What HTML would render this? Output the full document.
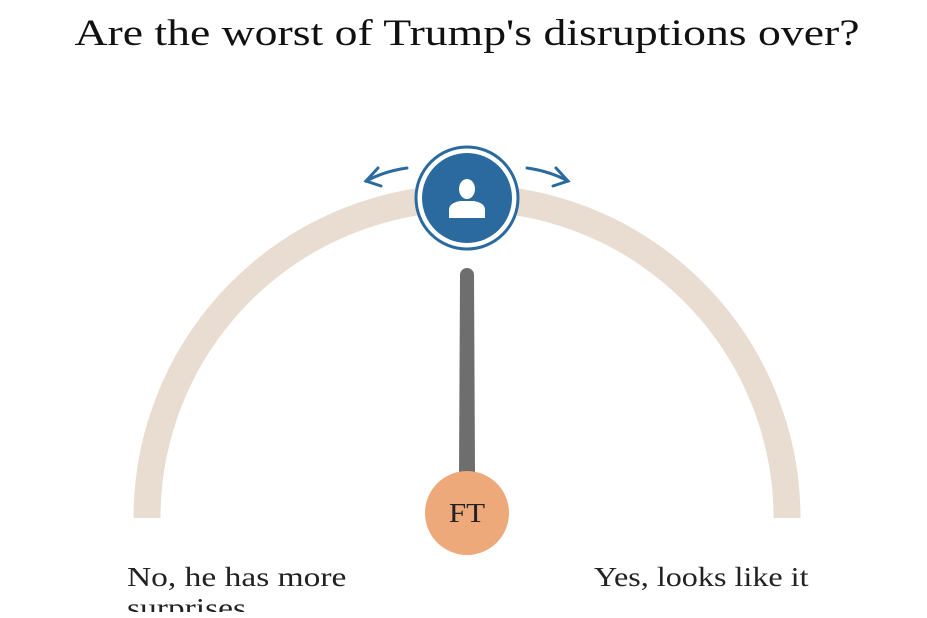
<!DOCTYPE html>
<html><head><meta charset="utf-8"><style>
html,body{margin:0;padding:0;background:#fff;width:927px;height:618px;overflow:hidden}
h1{position:absolute;top:12px;left:0;width:934px;text-align:center;margin:0;font:400 37px "Liberation Serif",serif;color:#111;transform:scaleX(1.235);transform-origin:467px 0}
.lbl{position:absolute;font:400 27px "Liberation Serif",serif;color:#222;line-height:31px;transform-origin:0 0}
</style></head><body>
<h1>Are the worst of Trump's disruptions over?</h1>
<svg width="927" height="618" style="position:absolute;left:0;top:0">
<path d="M147,518 A320,320 0 0 1 787,518" fill="none" stroke="#e8ddd0" stroke-width="27"/>
<g id="needle-g"></g>
<g>
<circle cx="467" cy="198" r="51" fill="#fff" stroke="#2b6a9e" stroke-width="3"/>
<circle cx="467" cy="198" r="45" fill="#2b6a9e"/>
<ellipse cx="467" cy="189" rx="8" ry="10" fill="#fff"/>
<path d="M449,218 L449,210 Q449,203 460,201 L474,201 Q485,203 485,210 L485,218 Z" fill="#fff"/>
</g>
<g fill="none" stroke="#2b6a9e" stroke-width="3" stroke-linecap="round">
<path d="M407,168 Q385,171 366,181"/><path d="M378,168 L366,181 L381,186"/></g>
<g fill="none" stroke="#2b6a9e" stroke-width="3" stroke-linecap="round">
<path d="M527,168 Q549,171 568,181"/><path d="M556,168 L568,181 L553,186"/></g>
<g>
<circle cx="467" cy="513" r="42" fill="#eda97a"/>
<text x="467" y="522" text-anchor="middle" font-family="Liberation Serif" font-size="27" fill="#222" transform="translate(467 0) scale(1.15 1) translate(-467 0)">FT</text></g>
</svg>
<div class="lbl" style="left:127px;top:562px;width:200px;height:50px;overflow:hidden;transform:scaleX(1.24)">No, he has more surprises</div>
<div class="lbl" style="left:594px;top:562px;transform:scaleX(1.19)">Yes, looks like it</div>
<script>
// gauge value: -1 = "No", 0 = centre, 1 = "Yes"
const categories = ["No, he has more surprises", "Yes, looks like it"];
const needleValues = [0];
const cx = 467, cy = 513;
function angleOf(v){ return v * 90; }
const g = document.getElementById('needle-g');
needleValues.forEach(v => {
  const p = document.createElementNS('http://www.w3.org/2000/svg','path');
  p.setAttribute('d','M459,472 L460,275 A7,7 0 0 1 474,275 L475,472 Z');
  p.setAttribute('fill','#6e6e6e');
  p.setAttribute('transform','rotate(' + angleOf(v) + ' ' + cx + ' ' + cy + ')');
  
  
  g.appendChild(p);
});
</script>
</body></html>
